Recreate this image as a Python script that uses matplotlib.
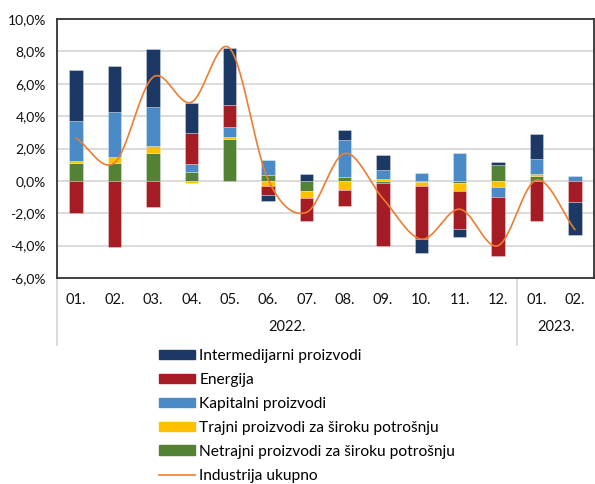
import numpy as np
import matplotlib
matplotlib.use("Agg")
import matplotlib.pyplot as plt
from matplotlib.patches import Patch
from matplotlib.lines import Line2D
from matplotlib.ticker import FuncFormatter

plt.rcParams['font.family'] = ['Lato', 'DejaVu Sans']

# data (percent)
months = ['01.', '02.', '03.', '04.', '05.', '06.', '07.', '08.', '09.', '10.', '11.', '12.', '01.', '02.']
years = ['2022.', '2023.']
intermedijarni = [3.15, 2.86, 3.58, 1.85, 3.52, -0.37, 0.43, 0.65, 0.94, -0.88, -0.47, 0.20, 1.55, -2.07]
energija = [-1.98, -4.11, -1.62, 1.88, 1.35, -0.57, -1.43, -1.00, -3.89, -3.27, -2.39, -3.62, -2.49, -1.29]
kapitalni = [2.45, 2.74, 2.43, 0.51, 0.63, 0.92, 0.0, 2.25, 0.55, 0.47, 1.70, -0.65, 0.94, 0.29]
trajni = [0.17, 0.40, 0.41, -0.14, 0.12, -0.29, -0.45, -0.57, 0.12, -0.22, -0.45, -0.37, 0.10, 0.0]
netrajni = [1.08, 1.09, 1.74, 0.55, 2.56, 0.35, -0.61, 0.27, -0.12, -0.08, -0.16, 0.98, 0.33, 0.02]
ukupno = [2.64, 1.12, 6.40, 4.85, 8.20, 0.10, -1.95, 1.70, -1.10, -3.60, -1.75, -4.00, 0.05, -3.00]

labels = ['Intermedijarni proizvodi', 'Energija', 'Kapitalni proizvodi',
          'Trajni proizvodi za široku potrošnju', 'Netrajni proizvodi za široku potrošnju']
colors = ['#1c3864', '#a51c24', '#4a8ac6', '#ffc000', '#548235']
line_color = '#ed7d31'

fig = plt.figure(figsize=(5.95, 4.84), dpi=100)
W, H = 595, 484
left, right, top, bottom = 57, 594, 19, 278
ax = fig.add_axes([left / W, 1 - bottom / H, (right - left) / W, (bottom - top) / H])

x = np.arange(len(months))
# stacking order from zero outward: green, yellow, blue, red, navy
stack = [(netrajni, colors[4]), (trajni, colors[3]), (kapitalni, colors[2]),
         (energija, colors[1]), (intermedijarni, colors[0])]
pos = np.zeros(len(x))
neg = np.zeros(len(x))
for vals, c in stack:
    v = np.array(vals)
    b = np.where(v >= 0, pos, neg)
    ax.bar(x, v, bottom=b, width=0.35, color=c, edgecolor=(1, 1, 1, 0.35), linewidth=0.6, zorder=3)
    pos += np.where(v >= 0, v, 0)
    neg += np.where(v < 0, v, 0)

# smoothed line (Catmull-Rom through the data points)
y = np.array(ukupno)
px = np.concatenate([[x[0] - 1], x, [x[-1] + 1]])
py = np.concatenate([[2 * y[0] - y[1]], y, [2 * y[-1] - y[-2]]])
sx, sy = [], []
t = np.linspace(0, 1, 30)
for i in range(1, len(px) - 2):
    p0, p1, p2, p3 = py[i - 1], py[i], py[i + 1], py[i + 2]
    q0, q1, q2, q3 = px[i - 1], px[i], px[i + 1], px[i + 2]
    f = lambda a0, a1, a2, a3: 0.5 * ((2 * a1) + (-a0 + a2) * t + (2 * a0 - 5 * a1 + 4 * a2 - a3) * t ** 2 + (-a0 + 3 * a1 - 3 * a2 + a3) * t ** 3)
    sx.extend(f(q0, q1, q2, q3))
    sy.extend(f(p0, p1, p2, p3))
ax.plot(sx, sy, color=line_color, lw=1.2, zorder=4)

ax.set_xlim(-0.5, len(x) - 0.5)
ax.set_ylim(-6, 10)
ax.set_yticks(np.arange(-6, 10.1, 2))
ax.yaxis.set_major_formatter(FuncFormatter(lambda v, p: ('%.1f%%' % v).replace('.', ',')))
ax.tick_params(axis='y', length=0, labelsize=10, pad=8, colors='#111111')
ax.set_xticks([])
ax.grid(axis='y', color='#d9d9d9', lw=1.3, zorder=0)
for s in ax.spines.values():
    s.set_color('#333333')
    s.set_linewidth(1.3)

# category axis below
for i, m in enumerate(months):
    ax.annotate(m, (x[i], 0), xycoords=('data', 'axes fraction'), xytext=(0, -22),
                textcoords='offset pixels', ha='center', va='center', fontsize=10.5, color='#111111')
ax.annotate(years[0], (5.5, 0), xycoords=('data', 'axes fraction'), xytext=(0, -49),
            textcoords='offset pixels', ha='center', va='center', fontsize=10.5, color='#111111')
ax.annotate(years[1], (12.5, 0), xycoords=('data', 'axes fraction'), xytext=(0, -49),
            textcoords='offset pixels', ha='center', va='center', fontsize=10.5, color='#111111')
for xv in [-0.5, 11.5]:
    ax.plot([xv, xv], [0, -67 / (bottom - top)], transform=ax.get_xaxis_transform(),
            color='#d9d9d9', lw=1.3, clip_on=False)

handles = [Patch(color=c) for c in colors] + [Line2D([], [], color=line_color, lw=1.2)]
fig.legend(handles, labels + ['Industrija ukupno'], loc='upper left',
           bbox_to_anchor=(159 / W, 1 - 349 / H), frameon=False, fontsize=11.2,
           handlelength=2.3, handleheight=0.58, handletextpad=0.3, labelspacing=0.64,
           borderpad=0, borderaxespad=0)

fig.savefig('out.png', dpi=100)
